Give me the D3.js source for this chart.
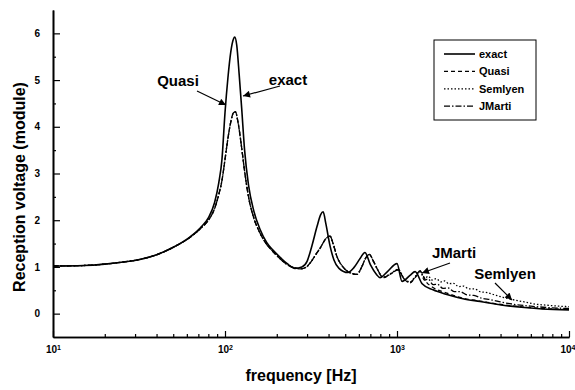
<!DOCTYPE html>
<html>
<head>
<meta charset="utf-8">
<script src="https://cdn.jsdelivr.net/npm/d3@7"></script>
<style>
body { margin: 0; background: #fff; }
svg { font-family: Arial, "Liberation Sans", sans-serif; }
.axis .domain { stroke: #000; stroke-width: 1.6; }
.axis line { stroke: #000; stroke-width: 1.2; }
.axis text { font-size: 10px; font-weight: bold; fill: #000; }
</style>
</head>
<body>
<svg width="575" height="390"></svg>
<script>
// values: [frequency Hz, module]
var exactData = [[10,1.02],[15,1.03],[20,1.06],[25,1.1],[32,1.16],[40,1.26],[50,1.42],[63,1.65],[72,1.84],[80,2.05],[87,2.38],[92,2.8],[96,3.3],[100,4.3],[104,5.05],[108,5.6],[112,5.88],[114,5.92],[117,5.75],[121,5.1],[125,4.4],[130,3.5],[137,2.75],[147,2.2],[160,1.8],[175,1.52],[190,1.36],[210,1.2],[230,1.07],[255,0.97],[280,1.0],[300,1.12],[320,1.45],[343,1.87],[360,2.12],[372,2.18],[386,1.92],[408,1.45],[430,1.15],[460,0.97],[519,0.88],[560,0.98],[610,1.18],[651,1.31],[700,1.05],[760,0.84],[796,0.77],[880,0.9],[1000,1.07],[1070,0.69],[1190,0.82],[1274,0.9],[1400,0.64],[1620,0.51],[1950,0.41],[2420,0.32],[3040,0.26],[4130,0.18],[5500,0.13],[7000,0.1],[10000,0.08]];

var quasiData = [[10,1.02],[15,1.03],[20,1.06],[25,1.1],[32,1.16],[40,1.26],[50,1.42],[63,1.64],[72,1.82],[80,2.0],[87,2.25],[92,2.55],[96,2.85],[100,3.3],[104,3.75],[108,4.1],[112,4.3],[115,4.32],[119,4.1],[124,3.65],[130,3.05],[137,2.5],[147,2.05],[160,1.72],[175,1.48],[190,1.33],[210,1.17],[230,1.05],[255,0.98],[275,0.96],[295,0.99],[312,1.08],[335,1.25],[357,1.4],[385,1.6],[408,1.66],[425,1.5],[448,1.22],[485,1.0],[530,0.88],[585,0.84],[620,0.98],[660,1.2],[690,1.27],[730,1.12],[772,0.94],[829,0.77],[920,0.85],[1014,0.94],[1100,0.74],[1191,0.66],[1280,0.78],[1362,0.9],[1494,0.66],[1620,0.56],[1950,0.44],[2420,0.33],[3040,0.27],[4130,0.19],[5500,0.14],[7000,0.11],[10000,0.09]];

var semlyenData = [[10,1.02],[15,1.03],[20,1.06],[25,1.1],[32,1.16],[40,1.26],[50,1.42],[63,1.64],[72,1.82],[80,2.0],[87,2.25],[92,2.55],[96,2.85],[100,3.3],[104,3.75],[108,4.1],[112,4.3],[115,4.32],[119,4.1],[124,3.65],[130,3.05],[137,2.5],[147,2.05],[160,1.72],[175,1.48],[190,1.33],[210,1.17],[230,1.05],[255,0.98],[275,0.96],[295,0.99],[312,1.08],[335,1.25],[357,1.4],[385,1.6],[408,1.66],[425,1.5],[448,1.22],[485,1.0],[530,0.88],[585,0.84],[620,0.98],[660,1.2],[690,1.27],[730,1.12],[772,0.94],[829,0.78],[920,0.86],[1014,0.95],[1100,0.75],[1191,0.68],[1280,0.8],[1362,0.91],[1450,0.76],[1520,0.8],[1600,0.72],[1690,0.75],[1800,0.68],[1900,0.7],[2000,0.64],[2130,0.65],[2280,0.58],[2440,0.59],[2620,0.53],[2820,0.53],[3040,0.47],[3350,0.45],[3700,0.4],[4130,0.35],[4700,0.3],[5500,0.25],[6500,0.2],[7500,0.18],[8700,0.16],[10000,0.15]];

var jmartiData = [[10,1.02],[15,1.03],[20,1.06],[25,1.1],[32,1.16],[40,1.26],[50,1.42],[63,1.64],[72,1.82],[80,2.0],[87,2.25],[92,2.55],[96,2.85],[100,3.3],[104,3.75],[108,4.1],[112,4.3],[115,4.32],[119,4.1],[124,3.65],[130,3.05],[137,2.5],[147,2.05],[160,1.72],[175,1.48],[190,1.33],[210,1.17],[230,1.05],[255,0.98],[275,0.96],[295,0.99],[312,1.08],[335,1.25],[357,1.4],[385,1.6],[408,1.66],[425,1.5],[448,1.22],[485,1.0],[530,0.88],[585,0.84],[620,0.98],[660,1.2],[690,1.27],[730,1.12],[772,0.94],[829,0.77],[920,0.85],[1014,0.94],[1100,0.74],[1191,0.67],[1280,0.79],[1362,0.92],[1440,0.72],[1520,0.74],[1620,0.62],[1720,0.63],[1850,0.54],[1980,0.55],[2150,0.47],[2330,0.47],[2550,0.4],[2800,0.39],[3100,0.33],[3500,0.3],[4130,0.24],[5000,0.19],[6000,0.16],[7500,0.13],[10000,0.11]];

var seriesNames = ["exact", "Quasi", "Semlyen", "JMarti"];
var seriesDash = ["none", "4,3", "1.5,2", "6,2,1.5,2"];
var seriesWidth = [1.6, 1.3, 1.3, 1.3];

var xMajorTicks = [10, 100, 1000, 10000];
var xTickExponents = ["1", "2", "3", "4"];
var xMinorSteps = [2, 3, 4, 5, 6, 7, 8, 9];
var yMajorTicks = [0, 1, 2, 3, 4, 5, 6];
var yMinorTicks = [0.5, 1.5, 2.5, 3.5, 4.5, 5.5];

var svg = d3.select("svg");

var x = d3.scaleLog().domain([10, 10000]).range([53, 569]);
var y = d3.scaleLinear().domain([-0.5, 6.5]).range([337, 10]);

var xMinor = [];
xMajorTicks.slice(0, 3).forEach(function (d) {
    xMinorSteps.forEach(function (s) { xMinor.push(d * s); });
});

// curves
var line = d3.line()
    .x(function (d) { return x(d[0]); })
    .y(function (d) { return y(d[1]); })
    .curve(d3.curveMonotoneX);

var allSeries = [exactData, quasiData, semlyenData, jmartiData];

svg.append("g").attr("class", "curves")
    .selectAll("path").data(allSeries).enter().append("path")
    .attr("d", line)
    .attr("fill", "none")
    .attr("stroke", "#000")
    .attr("stroke-width", function (d, i) { return seriesWidth[i]; })
    .attr("stroke-dasharray", function (d, i) { return seriesDash[i]; })
    .attr("stroke-linejoin", "round");

// axes, ticks pointing inwards
svg.append("g").attr("class", "axis")
    .attr("transform", "translate(0," + y.range()[0] + ")")
    .call(d3.axisBottom(x).tickValues(xMinor).tickSize(-3).tickSizeOuter(0).tickFormat(""));

var xAxis = svg.append("g").attr("class", "axis")
    .attr("transform", "translate(0," + y.range()[0] + ")")
    .call(d3.axisBottom(x).tickValues(xMajorTicks).tickSize(-6).tickSizeOuter(0).tickPadding(9));

xAxis.selectAll("text").each(function (d, i) {
    var t = d3.select(this).text("10");
    t.append("tspan").attr("dy", "-0.45em").attr("font-size", "7px").text(xTickExponents[i]);
    // last label sits against the right border, as in the scan
    if (i === xMajorTicks.length - 1) t.attr("text-anchor", "end").attr("x", 6);
});

svg.append("g").attr("class", "axis")
    .attr("transform", "translate(" + x.range()[0] + ",0)")
    .call(d3.axisLeft(y).tickValues(yMinorTicks).tickSize(-3).tickSizeOuter(0).tickFormat(""));

svg.append("g").attr("class", "axis")
    .attr("transform", "translate(" + x.range()[0] + ",0)")
    .call(d3.axisLeft(y).tickValues(yMajorTicks).tickSize(-7).tickSizeOuter(0).tickPadding(13)
        .tickFormat(d3.format("d")));

// axis titles
svg.append("text")
    .attr("x", 301).attr("y", 381)
    .attr("text-anchor", "middle")
    .attr("font-size", "16px")
    .attr("font-weight", "bold")
    .text("frequency [Hz]");

svg.append("text")
    .attr("transform", "translate(25,187) rotate(-90)")
    .attr("text-anchor", "middle")
    .attr("font-size", "16px")
    .attr("font-weight", "bold")
    .text("Reception voltage (module)");

// legend
var legend = svg.append("g").attr("class", "legend");
legend.append("rect")
    .attr("x", 434).attr("y", 40).attr("width", 102).attr("height", 80)
    .attr("fill", "#fff").attr("stroke", "#000").attr("stroke-width", 1);

var items = legend.selectAll("g.item").data(seriesNames).enter().append("g")
    .attr("class", "item")
    .attr("transform", function (d, i) { return "translate(0," + (54 + i * 17.4) + ")"; });

items.append("line")
    .attr("x1", 444).attr("x2", 475)
    .attr("stroke", "#000")
    .attr("stroke-width", function (d, i) { return seriesWidth[i]; })
    .attr("stroke-dasharray", function (d, i) { return seriesDash[i]; });

items.append("text")
    .attr("x", 479).attr("dy", "0.35em")
    .attr("font-size", "11px").attr("font-weight", "bold")
    .text(function (d) { return d; });

// annotations with arrows
svg.append("defs").append("marker")
    .attr("id", "head")
    .attr("viewBox", "0 0 10 10")
    .attr("refX", 10).attr("refY", 5)
    .attr("markerWidth", 9).attr("markerHeight", 7)
    .attr("markerUnits", "userSpaceOnUse")
    .attr("orient", "auto")
    .append("path").attr("d", "M0,0 L10,5 L0,10 z").attr("fill", "#000");

var notes = [
    {text: "Quasi", tx: 178, ty: 86, x1: 197, y1: 91, x2: 226, y2: 105},
    {text: "exact", tx: 288, ty: 85, x1: 280, y1: 86, x2: 243, y2: 96},
    {text: "JMarti", tx: 454, ty: 258, x1: 450, y1: 263, x2: 422, y2: 273},
    {text: "Semlyen", tx: 505, ty: 279, x1: 495, y1: 283, x2: 512, y2: 300}
];

var ann = svg.append("g").attr("class", "notes");
ann.selectAll("text").data(notes).enter().append("text")
    .attr("x", function (d) { return d.tx; })
    .attr("y", function (d) { return d.ty; })
    .attr("text-anchor", "middle")
    .attr("font-size", "15px")
    .attr("font-weight", "bold")
    .text(function (d) { return d.text; });

ann.selectAll("line").data(notes).enter().append("line")
    .attr("x1", function (d) { return d.x1; })
    .attr("y1", function (d) { return d.y1; })
    .attr("x2", function (d) { return d.x2; })
    .attr("y2", function (d) { return d.y2; })
    .attr("stroke", "#000").attr("stroke-width", 1.2)
    .attr("marker-end", "url(#head)");
</script>
</body>
</html>
